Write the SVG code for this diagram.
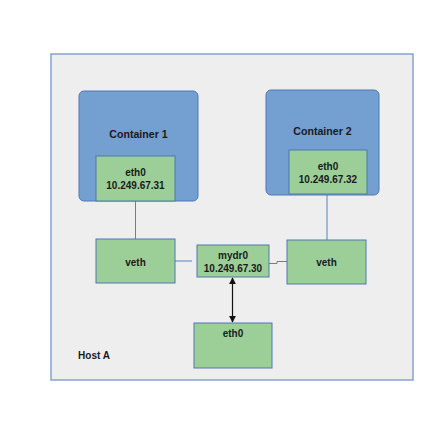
<svg xmlns="http://www.w3.org/2000/svg" width="444" height="433" viewBox="0 0 444 433">
<style>
.host{fill:#eeeeee;stroke:#86a2cf;stroke-width:1.5}
.ctr{fill:#739fd1;stroke:#4e79b6;stroke-width:1}
.nic{fill:#9ccf98;stroke:#4f78b0;stroke-width:1}
.lbl{font-family:"Liberation Sans",Arial,sans-serif;font-weight:bold;font-size:10px;fill:#1a1a1a;text-anchor:middle;dominant-baseline:central}
.big{font-size:10.6px}
.ln{stroke:#5a82b8;stroke-width:1;fill:none}
.arr{stroke:#111;stroke-width:1.2;fill:none}
</style>
<defs>
<marker id="ah" viewBox="0 0 10 10" refX="9" refY="5" markerWidth="7" markerHeight="7" orient="auto-start-reverse" markerUnits="userSpaceOnUse">
<path d="M0,0 L10,5 L0,10 z" fill="#111"/>
</marker>
</defs>
<rect width="444" height="433" fill="#ffffff"/>
<g id="hostA">
<rect class="host" x="51" y="54" width="362" height="326"/>
<text class="lbl" x="94" y="355">Host A</text>
</g>
<g id="connectors">
<line class="ln" x1="135.5" y1="201" x2="135.5" y2="239"/>
<line class="ln" x1="327" y1="194" x2="327" y2="240"/>
<line class="ln" x1="175" y1="261" x2="192" y2="261"/>
<polyline class="ln" points="269,263.5 277,263.5 277,261.5 287,261.5"/>
<line class="arr" x1="232.5" y1="278" x2="232.5" y2="322" marker-start="url(#ah)" marker-end="url(#ah)"/>
</g>
<g id="container1">
<rect class="ctr" x="79" y="91" width="119" height="110" rx="5"/>
<text class="lbl big" x="138.5" y="133.5">Container 1</text>
</g>
<g id="c1eth0">
<rect class="nic" x="96" y="156" width="79" height="45"/>
<text class="lbl" x="135.5" y="172.5">eth0</text>
<text class="lbl" x="135.5" y="185.5">10.249.67.31</text>
</g>
<g id="container2">
<rect class="ctr" x="266" y="90" width="113" height="105" rx="5"/>
<text class="lbl big" x="322.5" y="130.5">Container 2</text>
</g>
<g id="c2eth0">
<rect class="nic" x="289" y="150" width="78" height="44"/>
<text class="lbl" x="328" y="166.5">eth0</text>
<text class="lbl" x="328" y="179.5">10.249.67.32</text>
</g>
<g id="veth1">
<rect class="nic" x="96" y="239" width="79" height="44"/>
<text class="lbl" x="135.5" y="262">veth</text>
</g>
<g id="mydr0">
<rect class="nic" x="197" y="245" width="72" height="32"/>
<text class="lbl" x="233" y="255.5">mydr0</text>
<text class="lbl" x="233" y="268.5">10.249.67.30</text>
</g>
<g id="veth2">
<rect class="nic" x="287" y="240" width="79" height="44"/>
<text class="lbl" x="326.5" y="262.5">veth</text>
</g>
<g id="hostEth0">
<rect class="nic" x="194" y="323" width="78" height="45"/>
<text class="lbl" x="233" y="333.5">eth0</text>
</g>
</svg>
